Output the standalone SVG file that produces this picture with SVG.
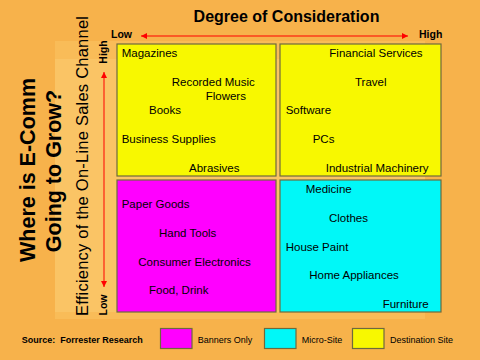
<svg xmlns="http://www.w3.org/2000/svg" width="480" height="360" viewBox="0 0 480 360">
<defs>
<style>
text{font-family:"Liberation Sans",Arial,sans-serif;fill:#000}
.item{font-size:11.5px}
.b{font-weight:bold}
.quad{stroke:#6e6a3c;stroke-width:1.2}
.leg{font-size:9px}
.arr{stroke:#ff0000;stroke-width:1;fill:none}
</style>
<marker id="ah" viewBox="0 0 10 10" refX="10" refY="5" markerWidth="7" markerHeight="6" orient="auto-start-reverse" markerUnits="userSpaceOnUse">
<path d="M0,0 L10,5 L0,10 Z" fill="#ff0000"/>
</marker>
</defs>
<rect x="0" y="0" width="480" height="360" fill="#F7B24B"/>
<rect x="55" y="41" width="370" height="278" fill="#F9BC58"/>
<rect x="55" y="59" width="370" height="253" fill="#FAC465"/>

<text class="b" x="286.5" y="22" font-size="16" text-anchor="middle">Degree of Consideration</text>
<text class="b" x="111" y="38" font-size="10.5">Low</text>
<text class="b" x="419" y="38" font-size="10.5">High</text>
<text class="b" transform="translate(107,52) rotate(-90)" font-size="10.5" text-anchor="middle">High</text>
<text class="b" transform="translate(107,305) rotate(-90)" font-size="10.5" text-anchor="middle">Low</text>

<text class="b" transform="translate(35,170) rotate(-90)" font-size="21.5" text-anchor="middle">Where is E-Comm</text>
<text class="b" transform="translate(61,171) rotate(-90)" font-size="21.5" text-anchor="middle">Going to Grow?</text>
<text transform="translate(88,166) rotate(-90)" font-size="16.5" text-anchor="middle" textLength="300" lengthAdjust="spacing">Efficiency of the On-Line Sales Channel</text>

<g id="connectors">
<line class="arr" x1="141" y1="36" x2="408" y2="36" marker-start="url(#ah)" marker-end="url(#ah)"/>
<line class="arr" x1="104" y1="72" x2="104" y2="287" marker-start="url(#ah)" marker-end="url(#ah)"/>
</g>

<g id="destination-low">
<rect class="quad" x="117" y="44" width="159" height="132" fill="#F8F800"/>
<text class="item" x="121.7" y="57.3">Magazines</text>
<text class="item" x="171.7" y="85.7">Recorded Music</text>
<text class="item" x="205.7" y="100">Flowers</text>
<text class="item" x="149" y="114">Books</text>
<text class="item" x="121.7" y="142.7">Business Supplies</text>
<text class="item" x="189" y="171.7">Abrasives</text>
</g>

<g id="destination-high">
<rect class="quad" x="280" y="44" width="161" height="132" fill="#F8F800"/>
<text class="item" x="329.3" y="57.3">Financial Services</text>
<text class="item" x="355" y="85.7">Travel</text>
<text class="item" x="285.7" y="114">Software</text>
<text class="item" x="312.7" y="142.7">PCs</text>
<text class="item" x="325.7" y="171.7">Industrial Machinery</text>
</g>

<g id="banners-only">
<rect class="quad" x="117" y="180" width="159" height="132" fill="#FF00FF"/>
<text class="item" x="121.7" y="207.7">Paper Goods</text>
<text class="item" x="159" y="236.7">Hand Tools</text>
<text class="item" x="138.3" y="265.7">Consumer Electronics</text>
<text class="item" x="149" y="294">Food, Drink</text>
</g>

<g id="micro-site">
<rect class="quad" x="280" y="180" width="161" height="132" fill="#00F8F8"/>
<text class="item" x="305.7" y="192.7">Medicine</text>
<text class="item" x="329" y="221.7">Clothes</text>
<text class="item" x="285.7" y="250.7">House Paint</text>
<text class="item" x="309.3" y="279.3">Home Appliances</text>
<text class="item" x="382.7" y="308.3">Furniture</text>
</g>

<g id="legend">
<text class="leg b" x="21.7" y="343.3" xml:space="preserve">Source:  Forrester Research</text>
<rect class="quad" x="160.5" y="328.5" width="31.5" height="20" fill="#FF00FF"/>
<text class="leg" x="197.7" y="343.3">Banners Only</text>
<rect class="quad" x="264.5" y="328.5" width="31.5" height="20" fill="#00F8F8"/>
<text class="leg" x="301.7" y="343.3">Micro-Site</text>
<rect class="quad" x="352.5" y="328.5" width="31.5" height="20" fill="#F8F800"/>
<text class="leg" x="390" y="343.3">Destination Site</text>
</g>
</svg>
